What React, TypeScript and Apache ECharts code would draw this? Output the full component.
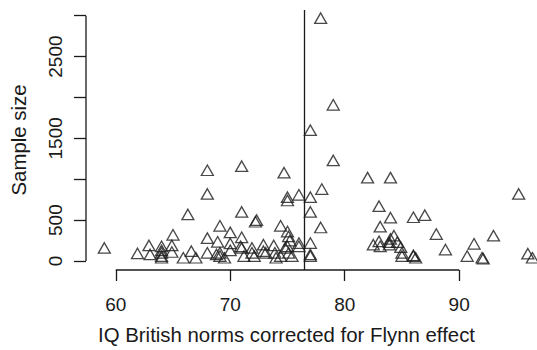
import React, { useEffect, useRef } from "react";
import * as echarts from "echarts";

const iqValues: number[] = [
  77.9, 79.0, 77.0, 79.0, 68.0, 71.0, 74.7, 82.0, 84.0, 78.0, 68.0, 95.2, 75.0, 75.0, 76.0, 77.0,
  83.0, 71.0, 77.0, 66.3, 72.2, 72.3, 84.0, 86.0, 87.0, 74.4, 69.1, 77.9, 83.1, 88.0, 93.0, 75.0,
  75.1, 75.2, 65.0, 64.9, 68.0, 70.0, 71.0, 68.9, 70.0, 59.0, 61.9, 62.9, 63.0, 64.0, 64.0, 64.0,
  64.0, 64.0, 64.9, 65.9, 66.6, 67.0, 68.0, 68.8, 69.1, 69.1, 69.5, 70.0, 70.9, 71.0, 71.2, 71.9,
  71.9, 72.1, 72.9, 72.9, 73.1, 73.8, 73.9, 74.0, 74.4, 74.8, 75.0, 75.1, 75.4, 76.0, 76.0, 77.0,
  77.0, 77.0, 82.5, 83.0, 83.1, 83.9, 84.0, 84.3, 83.9, 84.6, 84.9, 85.0, 85.0, 86.0, 86.0, 86.2,
  88.8, 91.3, 90.7, 92.0, 92.1, 96.0, 96.4,
];
const sampleSizes: number[] = [
  2970, 1910, 1600, 1230, 1110, 1160, 1080, 1020, 1020, 880, 820, 820, 780, 740, 810, 780,
  670, 600, 600, 570, 480, 500, 530, 535, 560, 430, 430, 410, 420, 330, 310, 360,
  300, 250, 320, 190, 280, 350, 290, 235, 215, 160, 93, 190, 80, 180, 130, 100,
  60, 40, 110, 40, 120, 40, 100, 80, 100, 60, 40, 130, 180, 160, 60, 160,
  100, 60, 200, 120, 100, 190, 100, 40, 60, 160, 180, 100, 60, 220, 180, 220,
  80, 60, 200, 240, 180, 230, 270, 310, 200, 230, 170, 100, 60, 70, 60, 40,
  140, 210, 60, 40, 30, 90, 40,
];
const xTicks: number[] = [60, 70, 80, 90];
const yTicks: number[] = [0, 500, 1000, 1500, 2000, 2500, 3000];
const yLabels: number[] = [0, 500, 1500, 2500];
const cutoff = 76.5;
const xTitle = "IQ British norms corrected for Flynn effect";
const yTitle = "Sample size";

const X_MIN = 57.4;
const X_MAX = 96.8;
const Y_MIN = -110;
const Y_MAX = 3070;

export default function App() {
  const ref = useRef<HTMLDivElement>(null);
  useEffect(() => {
    document.body.style.margin = "0";
    if (!ref.current) return;
    const chart = echarts.init(ref.current, undefined, { renderer: "svg" });
    const ink = "#1a1a1a";
    const font = "Liberation Sans, Arial, Helvetica, sans-serif";
    const points = iqValues.map((x, i) => [x, sampleSizes[i]]);
    chart.setOption({
      animation: false,
      backgroundColor: "#ffffff",
      grid: { left: 86, top: 10, right: 0, bottom: 76.5, containLabel: false },
      xAxis: {
        type: "value",
        min: X_MIN,
        max: X_MAX,
        axisLine: { show: false, onZero: false },
        splitLine: { show: false },
        axisTick: {
          show: true,
          inside: false,
          customValues: xTicks,
          length: 11,
          lineStyle: { color: ink, width: 1.3 },
        },
        axisLabel: {
          customValues: xTicks,
          formatter: (v: number) => String(v),
          color: ink,
          fontSize: 19,
          fontFamily: font,
          margin: 25,
        },
        name: xTitle,
        nameLocation: "middle",
        nameGap: 55,
        nameTextStyle: {
          color: ink,
          fontSize: 20.4,
          fontFamily: font,
          padding: [0, 50, 0, 0],
        },
      },
      yAxis: {
        type: "value",
        min: Y_MIN,
        max: Y_MAX,
        axisLine: { show: false, onZero: false },
        splitLine: { show: false },
        axisTick: {
          show: true,
          inside: false,
          customValues: yTicks,
          length: 12,
          lineStyle: { color: ink, width: 1.3 },
        },
        axisLabel: {
          customValues: yLabels,
          formatter: (v: number) => String(v),
          color: ink,
          fontSize: 19,
          fontFamily: font,
          rotate: 90,
          margin: 21,
        },
        name: yTitle,
        nameLocation: "middle",
        nameGap: 57,
        nameTextStyle: { color: ink, fontSize: 20.4, fontFamily: font },
      },
      series: [
        {
          type: "scatter",
          data: points,
          symbol: "triangle",
          symbolSize: [12, 10.5],
          clip: false,
          itemStyle: { color: "rgba(0,0,0,0)", borderColor: ink, borderWidth: 1.3 },
          markLine: {
            silent: true,
            symbol: ["none", "none"],
            label: { show: false },
            lineStyle: { color: ink, width: 1.3, type: "solid" },
            data: [{ xAxis: cutoff }],
          },
        },
        {
          type: "line",
          data: [[X_MIN, yTicks[0]], [X_MIN, yTicks[yTicks.length - 1]]],
          symbol: "none",
          clip: false,
          lineStyle: { color: ink, width: 1.3 },
          silent: true,
        },
        {
          type: "line",
          data: [[xTicks[0], Y_MIN], [xTicks[xTicks.length - 1], Y_MIN]],
          symbol: "none",
          clip: false,
          lineStyle: { color: ink, width: 1.3 },
          silent: true,
        },
      ],
    });
    return () => chart.dispose();
  }, []);
  return <div ref={ref} style={{ width: 537, height: 350 }} />;
}
